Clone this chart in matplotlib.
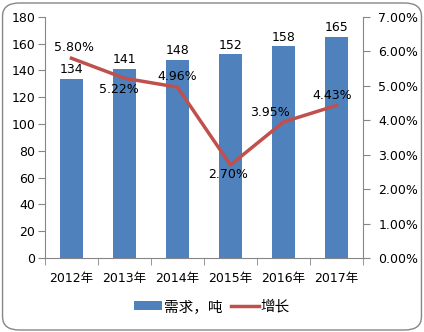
import matplotlib
matplotlib.use("Agg")
import matplotlib.pyplot as plt
from matplotlib.patches import FancyBboxPatch, Patch
from matplotlib.lines import Line2D
from matplotlib.ticker import FuncFormatter, MultipleLocator

plt.rcParams['font.family'] = ['DejaVu Sans', 'Noto Sans CJK SC']

years = ['2012年', '2013年', '2014年', '2015年', '2016年', '2017年']
demand = [134, 141, 148, 152, 158, 165]
growth = [5.80, 5.22, 4.96, 2.70, 3.95, 4.43]
growth_labels = ['5.80%', '5.22%', '4.96%', '2.70%', '3.95%', '4.43%']
label_offsets = [(2, 8), (-4, -8), (0, 8), (-2, -7), (-10, 7), (-3, 7)]

BLUE = '#4F81BD'
RED = '#C0504D'
GRAY = '#868686'

fig = plt.figure(figsize=(4.24, 3.32), dpi=100)
fig.patches.append(FancyBboxPatch((0.006, 0.006), 0.988, 0.985,
                                  boxstyle='round,pad=0,rounding_size=0.04',
                                  transform=fig.transFigure, facecolor='white',
                                  edgecolor=GRAY, linewidth=1.0, zorder=-10))

ax = fig.add_axes([0.106, 0.223, 0.75, 0.726])
ax.set_facecolor('none')
x = list(range(len(years)))
bars = ax.bar(x, demand, width=0.42, color=BLUE, zorder=2)
ax.set_ylim(0, 180)
ax.set_xlim(-0.5, len(years) - 0.5)
ax.yaxis.set_major_locator(MultipleLocator(20))
ax.set_xticks(x)
ax.set_xticklabels(years)
ax.set_xticks([i - 0.5 for i in range(len(years) + 1)], minor=True)
ax.tick_params(axis='x', which='major', length=0, pad=10, labelsize=9)
ax.tick_params(axis='x', which='minor', length=5, color=GRAY, direction='out')
ax.tick_params(axis='y', length=5, color=GRAY, labelsize=9, pad=2)
for s in ['top', 'right']:
    ax.spines[s].set_visible(False)
for s in ['left', 'bottom']:
    ax.spines[s].set_color(GRAY)

for xi, v in zip(x, demand):
    ax.annotate(str(v), (xi, v), xytext=(0, 2), textcoords='offset points',
                ha='center', va='bottom', fontsize=9)

ax2 = ax.twinx()
ax2.plot(x, growth, color=RED, linewidth=2.5, zorder=3)
ax2.set_ylim(0, 7)
ax2.yaxis.set_major_locator(MultipleLocator(1))
ax2.yaxis.set_major_formatter(FuncFormatter(lambda v, p: f'{v:.2f}%'))
ax2.tick_params(axis='y', length=5, color=GRAY, labelsize=9, pad=6)
for s in ['top', 'left', 'bottom']:
    ax2.spines[s].set_visible(False)
ax2.spines['right'].set_color(GRAY)
for xi, v, lab, off in zip(x, growth, growth_labels, label_offsets):
    ax2.annotate(lab, (xi, v), xytext=off, textcoords='offset points',
                 ha='center', va='center', fontsize=9)

handles = [Patch(facecolor=BLUE, edgecolor='none'),
           Line2D([0], [0], color=RED, linewidth=2.5)]
fig.legend(handles, ['需求，吨', '增长'], loc='center', bbox_to_anchor=(0.5, 0.078),
           ncol=2, frameon=False, fontsize=10.5, handlelength=1.9, handleheight=0.55,
           handletextpad=0.15, columnspacing=0.6)

fig.savefig('out.png', dpi=100)
